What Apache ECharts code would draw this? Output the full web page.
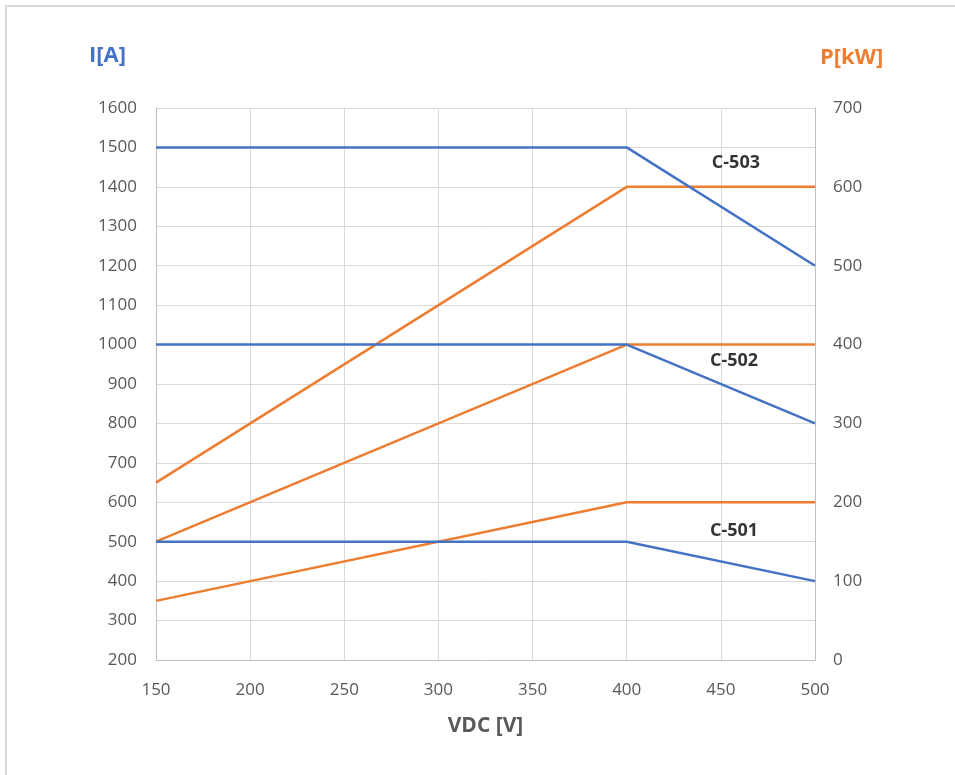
<!DOCTYPE html>
<html>
<head>
<meta charset="utf-8">
<script src="https://cdn.jsdelivr.net/npm/echarts@6/dist/echarts.min.js"></script>
<style>
  html, body { margin: 0; padding: 0; background: #fff; }
  #frame { position: absolute; left: 5px; top: 5px; width: 1000px; height: 1000px; border: 2px solid #d9d9d9; }
  #main { position: absolute; left: 0; top: 0; width: 955px; height: 775px; }
</style>
</head>
<body>
<div id="frame"></div>
<div id="main"></div>
<script>
// 电压 / 电流 / 功率 数据
const voltage = [150, 400, 500]
const c501Current = [500, 500, 400]
const c502Current = [1000, 1000, 800]
const c503Current = [1500, 1500, 1200]
const c501Power = [75, 200, 200]
const c502Power = [150, 400, 400]
const c503Power = [225, 600, 600]
// 型号标签的位置 (V, A)
const modelNames = ['C-503', 'C-502', 'C-501']
const modelLabelAt = [[458, 1460], [457, 958], [457, 527]]

const blue = '#4472C4'
const orange = '#ED7D31'
const font = '"Open Sans", "Liberation Sans", sans-serif'

const pairs = (xs, ys) => xs.map((x, i) => [x, ys[i]])

const lineSeries = (name, xs, ys, color, axis) => ({
  name: name,
  type: 'line',
  yAxisIndex: axis,
  data: pairs(xs, ys),
  symbol: 'none',
  lineStyle: { width: 2.5, color: color },
  itemStyle: { color: color },
  z: axis === 0 ? 3 : 2
})

const plain = v => String(v)

const chart = echarts.init(document.getElementById('main'))
chart.setOption({
  animation: false,
  grid: { left: 156, right: 140, top: 108, bottom: 115 },
  textStyle: { fontFamily: font },
  xAxis: {
    type: 'value',
    min: 150, max: 500, interval: 50,
    name: 'VDC [V]',
    nameLocation: 'middle',
    nameGap: 56,
    nameTextStyle: { fontSize: 21, fontWeight: 'bold', color: '#595959', fontFamily: font },
    axisLine: { show: true, lineStyle: { color: '#bfbfbf', width: 1 } },
    axisTick: { show: false },
    axisLabel: { fontSize: 17, color: '#595959', margin: 22, fontFamily: font, formatter: plain },
    splitLine: { show: true, lineStyle: { color: '#d9d9d9', width: 1 } }
  },
  yAxis: [{
    type: 'value',
    min: 200, max: 1600, interval: 100,
    axisLine: { show: true, lineStyle: { color: '#bfbfbf', width: 1 } },
    axisTick: { show: false },
    axisLabel: { fontSize: 17, color: '#595959', margin: 19, fontFamily: font, formatter: plain },
    splitLine: { show: true, lineStyle: { color: '#d9d9d9', width: 1 } }
  }, {
    type: 'value',
    min: 0, max: 700, interval: 100,
    position: 'right',
    axisLine: { show: true, lineStyle: { color: '#bfbfbf', width: 1 } },
    axisTick: { show: false },
    axisLabel: { fontSize: 17, color: '#595959', margin: 18, fontFamily: font, formatter: plain },
    splitLine: { show: false }
  }],
  graphic: [{
    type: 'text', left: 89, top: 45,
    style: { text: 'I[A]', fill: blue, font: 'bold 22px ' + font }
  }, {
    type: 'text', left: 820, top: 47,
    style: { text: 'P[kW]', fill: orange, font: 'bold 22px ' + font }
  }],
  series: [
    lineSeries('C-501 P', voltage, c501Power, orange, 1),
    lineSeries('C-502 P', voltage, c502Power, orange, 1),
    lineSeries('C-503 P', voltage, c503Power, orange, 1),
    lineSeries('C-501 I', voltage, c501Current, blue, 0),
    lineSeries('C-502 I', voltage, c502Current, blue, 0),
    lineSeries('C-503 I', voltage, c503Current, blue, 0),
    {
      type: 'scatter',
      yAxisIndex: 0,
      symbolSize: 0,
      silent: true,
      data: modelNames.map((n, i) => ({ name: n, value: modelLabelAt[i] })),
      label: {
        show: true,
        position: 'inside',
        formatter: p => p.name,
        color: '#000',
        fontSize: 18,
        fontWeight: 'bold',
        fontFamily: font
      },
      z: 5
    }
  ]
})
</script>
</body>
</html>
